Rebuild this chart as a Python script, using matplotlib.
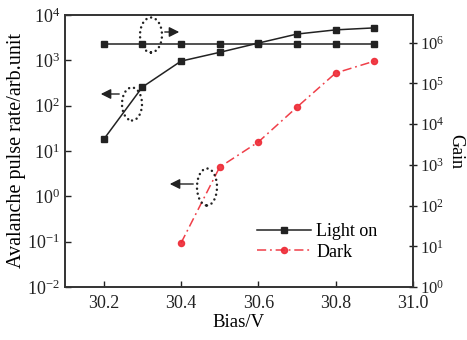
import matplotlib
matplotlib.use("Agg")
import matplotlib.pyplot as plt
from matplotlib.patches import Ellipse

bias = [30.2, 30.3, 30.4, 30.5, 30.6, 30.7, 30.8, 30.9]
light_on = [18, 257, 960, 1500, 2400, 3800, 4700, 5200]
dark_bias = [30.4, 30.5, 30.6, 30.7, 30.8, 30.9]
dark = [0.093, 4.4, 15.8, 93, 525, 960]
gain = [9.5e5, 9.5e5, 9.5e5, 9.5e5, 9.5e5, 9.5e5, 9.5e5, 9.5e5]

xticks = [30.2, 30.4, 30.6, 30.8, 31.0]

plt.rcParams['font.family'] = ['Liberation Serif', 'DejaVu Serif']
plt.rcParams['mathtext.fontset'] = 'custom'
plt.rcParams['mathtext.rm'] = 'Liberation Serif'
plt.rcParams['mathtext.it'] = 'Liberation Serif:italic'
plt.rcParams['mathtext.bf'] = 'Liberation Serif:bold'

FS = 13
BLACK = '#222222'
RED = '#ee2a35'

fig = plt.figure(figsize=(4.67, 3.40), dpi=100)
ax = fig.add_axes([65/467, 1-287/340, 348/467, 272/340])
ax2 = ax.twinx()

l1, = ax.plot(bias, light_on, color=BLACK, lw=1.1, marker='s', ms=4.2, label='Light on')
l2, = ax.plot(dark_bias, dark, color=RED, lw=1.1, ls=(0, (6, 2.5, 1.2, 2.5)),
              marker='o', ms=4.4, label='Dark', alpha=0.9)
ax2.plot(bias, gain, color=BLACK, lw=1.1, marker='s', ms=4.2)

ax.set_yscale('log')
ax2.set_yscale('log')
ax.set_xlim(30.1, 31.0)
ax.set_ylim(1e-2, 1e4)
ax2.set_ylim(1, 10**6.68)
ax.set_xticks(xticks)
ax.set_xticklabels(['%.1f' % v for v in xticks])
ax.set_yticks([10.0**k for k in range(-2, 5)])
ax2.set_yticks([10.0**k for k in range(0, 7)])
ax.yaxis.set_minor_locator(matplotlib.ticker.NullLocator())
ax2.yaxis.set_minor_locator(matplotlib.ticker.NullLocator())

ax.tick_params(axis='both', direction='in', length=4, width=1, labelsize=FS, colors=BLACK)
ax.tick_params(axis='x', pad=6)
ax2.tick_params(axis='y', direction='inout', length=6, width=1, labelsize=12, pad=2, colors=BLACK)
for a in (ax, ax2):
    for s in a.spines.values():
        s.set_linewidth(1.2)
        s.set_color('#333333')

ax.set_xlabel('Bias/V', fontsize=13.5, labelpad=1)
ax.set_ylabel('Avalanche pulse rate/arb.unit', fontsize=14.5, labelpad=1)
ax2.set_ylabel('Gain', fontsize=13, rotation=270, va='center')
ax2.yaxis.set_label_coords((456-65)/348, 0.5)

# dotted ellipses and arrows
def ell(cx, cy, w, h):
    e = Ellipse(((cx-65)/348, (287-cy)/272), w/348, h/272, transform=ax.transAxes,
                fill=False, ec=BLACK, lw=1.8, ls=(0, (0.01, 2.0)), zorder=5)
    e.set_capstyle('round')
    ax.add_patch(e)

def arr(x0, x1, y):
    ax.annotate('', xy=((x1-65)/348, (287-y)/272), xytext=((x0-65)/348, (287-y)/272),
                xycoords='axes fraction', textcoords='axes fraction',
                arrowprops=dict(arrowstyle='-|>,head_length=0.6,head_width=0.3',
                                color=BLACK, lw=1.0))

ell(151, 35, 22, 35)
arr(162, 182, 32)
ell(132, 104, 20, 33)
arr(122, 98, 94)
ell(207, 187, 20, 37)
arr(196, 167, 184)

leg = ax.legend(handles=[l1, l2], loc='lower left', bbox_to_anchor=(0.53, 0.07),
                frameon=False, fontsize=FS, handlelength=3.0, handletextpad=0.3,
                labelspacing=0.2, borderaxespad=0)

fig.savefig('out.png', dpi=100)
